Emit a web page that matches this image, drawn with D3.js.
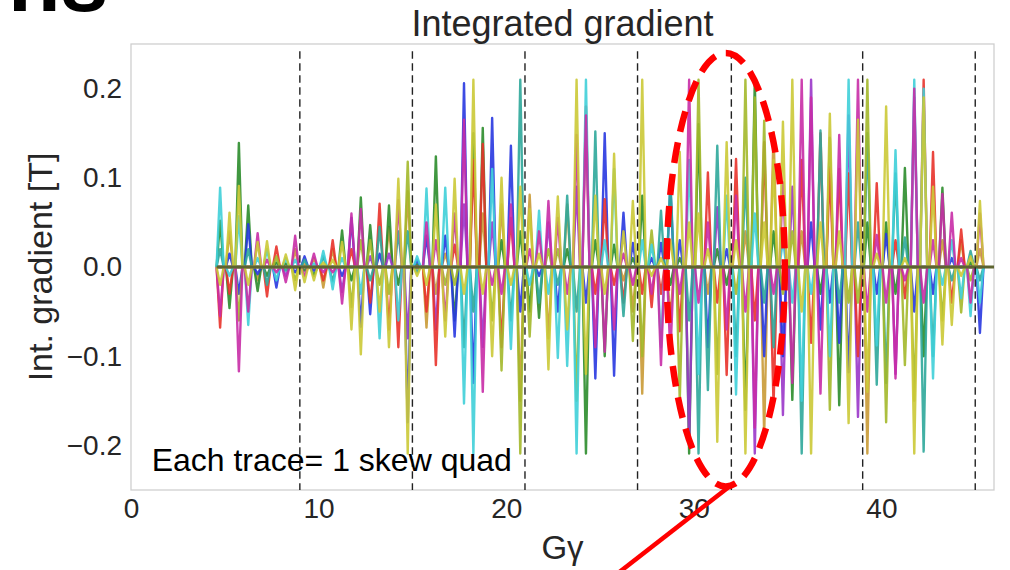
<!DOCTYPE html>
<html>
<head>
<meta charset="utf-8">
<script src="https://cdn.jsdelivr.net/npm/d3@7"></script>
<style>
  body { margin: 0; background: #fff; }
  svg { display: block; }
  text { font-family: "Liberation Sans", Arial, sans-serif; }
</style>
</head>
<body>
<div id="chart"></div>
<script>
// ---- DATA ----
// spin tune positions where each skew quad trace has a response spike
const gamma = [
  4.75, 5.25, 5.75, 6.25, 6.75, 7.25, 7.75, 8.25, 8.75, 9.25,
  9.75, 10.25, 10.75, 11.25, 11.75, 12.25, 12.75, 13.25, 13.75, 14.25,
  14.75, 15.25, 15.75, 16.25, 16.75, 17.25, 17.75, 18.25, 18.75, 19.25,
  19.75, 20.25, 20.75, 21.25, 21.75, 22.25, 22.75, 23.25, 23.75, 24.25,
  24.75, 25.25, 25.75, 26.25, 26.75, 27.25, 27.75, 28.25, 28.75, 29.25,
  29.75, 30.25, 30.75, 31.25, 31.75, 32.25, 32.75, 33.25, 33.75, 34.25,
  34.75, 35.25, 35.75, 36.25, 36.75, 37.25, 37.75, 38.25, 38.75, 39.25,
  39.75, 40.25, 40.75, 41.25, 41.75, 42.25, 42.75, 43.25, 43.75, 44.25,
  44.75, 45.25
];

// integrated gradient per skew quad [T]
const quadCyan = [
  .089, -.01, .057, -.065, .01, .02, -.015, .01, .008, 0,
  .004, .018, -.025, .01, 0, -.03, 0, -.08, 0, -.06,
  0, .012, .088, 0, .089, 0, -.153, -.209, 0, .11,
  0, -.092, 0, -.02, .063, -.03, -.102, -.111, -.209, .21,
  0, .03, .11, 0, 0, .03, .025, -.09, 0, 0,
  .12, -.12, 0, 0, .08, -.143, 0, .06, 0, 0,
  .03, -.04, -.15, -.03, 0, -.1, 0, .21, 0, 0,
  -.088, 0, .131, 0, .21, .2, -.125, -.02, .03, -.035,
  -.055, -.04
];
const quadTeal = [
  .02, 0, 0, .02, 0, -.02, 0, -.004, 0, .008,
  0, .012, -.016, 0, 0, 0, -.015, .045, 0, .04,
  .04, -.006, 0, 0, 0, 0, -.09, -.05, 0, 0,
  0, -.06, .21, 0, -.04, 0, -.02, .08, -.05, 0,
  .152, 0, 0, -.055, 0, 0, 0, .063, .099, 0,
  -.06, -.209, -.138, .136, 0, -.1, .1, 0, -.04, -.09,
  0, 0, -.209, 0, .153, 0, -.04, 0, .05, .15,
  -.132, -.13, .105, .033, 0, -.207, -.1, 0, -.015, 0,
  .018, -.015
];
const quadGreen = [
  .052, -.046, .139, .069, -.027, -.01, .005, .004, 0, -.004,
  -.01, 0, 0, .041, -.015, .078, .047, 0, .069, -.02,
  0, .003, 0, .124, 0, -.06, 0, .15, .156, 0,
  .03, 0, .04, -.05, -.057, 0, 0, .02, 0, -.209,
  .03, -.1, .025, 0, .01, .08, 0, 0, -.02, .01,
  -.209, .16, 0, .02, -.02, 0, -.16, .21, 0, .04,
  0, -.149, 0, 0, -.03, .145, -.155, 0, 0, .05,
  0, .05, -.03, .111, 0, -.1, 0, .089, 0, 0,
  .005, 0
];
const quadBlue = [
  0, .015, -.03, .048, -.008, 0, -.023, 0, -.006, .012,
  -.004, 0, 0, -.01, .055, -.067, -.053, .015, 0, 0,
  -.174, .008, .035, 0, .035, -.078, .206, -.13, 0, .167,
  0, .136, -.05, 0, -.01, 0, -.05, 0, 0, -.04,
  -.125, .15, -.122, .061, .027, 0, .01, .027, .09, .03,
  0, 0, -.09, 0, .02, 0, 0, 0, -.1, 0,
  -.1, 0, 0, .05, -.07, -.04, -.085, -.118, 0, 0,
  -.03, .037, 0, 0, -.05, 0, -.03, 0, .01, 0,
  0, -.074
];
const quadRed = [
  -.068, -.03, 0, 0, 0, -.033, .023, 0, 0, 0,
  0, -.015, .03, 0, .02, 0, -.04, .071, -.07, -.09,
  0, 0, -.05, -.11, 0, .025, 0, .12, .138, 0,
  -.09, .055, 0, 0, 0, 0, 0, 0, 0, .18,
  -.03, .076, -.02, -.04, 0, -.03, -.045, -.03, 0, -.072,
  0, 0, .106, -.04, -.121, .121, 0, -.06, .14, -.155,
  0, 0, .12, -.085, .15, .11, .11, .105, -.1, 0,
  .094, 0, .03, -.035, 0, .21, .129, 0, -.04, .042,
  0, 0
];
const quadMagenta = [
  -.055, 0, -.117, -.05, .038, .008, -.006, -.017, .035, -.01,
  .015, -.006, -.006, -.041, .06, .065, 0, 0, 0, .075,
  0, 0, .05, .03, -.06, .06, .165, 0, -.14, -.02,
  -.03, .07, 0, .02, .04, .074, .055, -.03, .148, .17,
  -.09, -.095, -.07, .015, -.02, 0, -.03, -.11, -.098, -.03,
  .21, -.04, .05, 0, -.07, .08, -.05, -.18, 0, -.03,
  .095, -.13, .21, .19, -.142, 0, .148, 0, .21, -.05,
  .036, -.04, -.125, -.015, .2, -.04, .03, .082, .061, .01,
  -.04, .06
];
const quadPurple = [
  0, 0, 0, 0, 0, 0, 0, -.01, 0, 0,
  0, 0, 0, -.028, 0, 0, .012, 0, .015, 0,
  -.08, 0, 0, -.07, 0, 0, .07, 0, -.09, .05,
  0, 0, 0, 0, 0, .05, 0, 0, .09, 0,
  0, 0, 0, 0, 0, 0, 0, 0, 0, 0,
  -.2, 0, 0, .067, 0, 0, 0, -.209, 0, 0,
  -.166, .09, 0, .21, 0, 0, 0, .17, -.168, 0,
  0, 0, -.12, 0, .19, 0, 0, 0, 0, 0,
  0, 0
];
const quadYellow = [
  -.02, .061, .091, -.02, .028, .029, 0, .014, -.026, -.017,
  -.015, .005, .008, .028, -.07, -.098, 0, -.05, -.09, .099,
  -.209, -.01, -.02, .07, -.078, .099, -.03, .21, -.03, -.1,
  .1, -.02, .09, .065, .015, -.115, .079, -.07, .21, -.12,
  .08, -.03, .127, .04, .074, .21, -.01, .01, .03, .129,
  .05, .06, .02, -.196, .14, .03, -.209, 0, .05, .12,
  .163, .21, -.05, -.209, .05, .172, .04, -.175, .165, -.14,
  .015, .18, 0, .01, -.209, .19, .09, -.087, -.065, -.01,
  .012, .074
];
const quadOlive = [
  0, 0, -.06, 0, 0, 0, .012, 0, -.015, 0,
  0, 0, 0, 0, -.045, .03, .03, -.02, -.03, 0,
  .118, 0, 0, 0, -.02, -.02, 0, 0, 0, -.06,
  -.116, 0, -.209, -.078, 0, .02, .02, 0, -.15, 0,
  0, 0, 0, 0, -.083, -.1, .041, 0, 0, -.15,
  0, .21, 0, -.12, 0, -.03, .21, .19, .164, 0,
  -.03, .04, 0, 0, 0, -.16, 0, -.04, -.04, .21,
  0, -.174, 0, -.11, -.15, 0, 0, -.06, 0, -.051,
  -.015, 0
];
const quadAmber = [
  0, .04, 0, 0, -.015, 0, 0, 0, .02, .003,
  .01, -.023, .02, 0, 0, 0, 0, 0, .045, 0,
  .085, -.002, -.068, -.03, .015, 0, 0, 0, .06, 0,
  .07, 0, -.15, .081, 0, -.08, 0, .07, 0, 0,
  0, 0, 0, -.015, -.05, -.142, 0, 0, -.06, 0,
  0, 0, -.03, 0, 0, 0, .04, 0, -.19, .151,
  0, 0, .04, 0, 0, 0, 0, 0, 0, -.209,
  0, 0, 0, 0, 0, 0, 0, .03, 0, .03,
  0, .02
];

// integer resonance markers
const resonances = [9, 15, 21, 27, 32, 39, 45];

const xTicks = [0, 10, 20, 30, 40];
const yTicks = [-0.2, -0.1, 0.0, 0.1, 0.2];

// ---- SVG ----
const W = 1010, H = 570;
const plot = {left: 131, right: 994, top: 44, bottom: 490};

const svg = d3.select("#chart")
    .append("svg")
    .attr("width", W)
    .attr("height", H);

const x = d3.scaleLinear().domain([0, 46]).range([plot.left, plot.right]);
const y = d3.scaleLinear().domain([-0.25, 0.25]).range([plot.bottom, plot.top]);

svg.append("clipPath").attr("id", "clip")
    .append("rect")
    .attr("x", plot.left).attr("y", plot.top)
    .attr("width", plot.right - plot.left)
    .attr("height", plot.bottom - plot.top);

// frame
svg.append("rect")
    .attr("x", plot.left).attr("y", plot.top)
    .attr("width", plot.right - plot.left)
    .attr("height", plot.bottom - plot.top)
    .attr("fill", "none")
    .attr("stroke", "#cfcfcf")
    .attr("stroke-width", 1.3);

const g = svg.append("g").attr("clip-path", "url(#clip)");

// ---- TRACES ----
const traces = [
    {values: quadAmber,   color: "#c99a35"},
    {values: quadGreen,   color: "#2b8c2b"},
    {values: quadPurple,  color: "#9a36c9"},
    {values: quadBlue,    color: "#2837e0"},
    {values: quadRed,     color: "#e8322a"},
    {values: quadTeal,    color: "#2ea79a"},
    {values: quadOlive,   color: "#a3b82a"},
    {values: quadCyan,    color: "#3fcfd8"},
    {values: quadMagenta, color: "#c82ca6"},
    {values: quadYellow,  color: "#cbc936"},
];

const line = d3.line()
    .x(d => x(d[0]))
    .y(d => y(d[1]));

// each spike is narrow: the trace sits at zero between resonance positions
const halfWidth = 0.19;
function spikes(values) {
    const pts = [];
    values.forEach((v, i) => {
        pts.push([gamma[i] - halfWidth, 0]);
        pts.push([gamma[i], v]);
        pts.push([gamma[i] + halfWidth, 0]);
    });
    return pts;
}

traces.forEach(t => {
    g.append("path")
        .datum(spikes(t.values))
        .attr("fill", "none")
        .attr("stroke", t.color)
        .attr("stroke-width", 2.4)
        .attr("stroke-opacity", 0.9)
        .attr("stroke-linejoin", "round")
        .attr("d", line);
});

// flat part shared by all traces
g.append("path")
    .datum([[gamma[0] - halfWidth, 0], [46, 0]])
    .attr("fill", "none")
    .attr("stroke", "#5d6431")
    .attr("stroke-width", 3)
    .attr("d", line);

// resonance lines
g.selectAll(".res")
    .data(resonances)
    .enter()
    .append("line")
    .attr("x1", d => x(d)).attr("x2", d => x(d))
    .attr("y1", y(0.242)).attr("y2", plot.bottom)
    .attr("stroke", "#222")
    .attr("stroke-width", 1.4)
    .attr("stroke-dasharray", "7.5,4.5");

// ---- AXES ----
const tickColor = "#262626";

const xAxis = svg.append("g")
    .attr("transform", `translate(0,${plot.bottom})`)
    .call(d3.axisBottom(x).tickValues(xTicks).tickSize(0).tickPadding(8));
xAxis.select(".domain").remove();
xAxis.selectAll("text")
    .style("font-size", "28px")
    .attr("fill", tickColor);

const yAxis = svg.append("g")
    .attr("transform", `translate(${plot.left},0)`)
    .call(d3.axisLeft(y).tickValues(yTicks).tickFormat(d3.format(".1f")).tickSize(0).tickPadding(9));
yAxis.select(".domain").remove();
yAxis.selectAll("text")
    .style("font-size", "28px")
    .attr("fill", tickColor);

// ---- TEXT ----
svg.append("text")
    .attr("x", (plot.left + plot.right) / 2)
    .attr("y", 36)
    .attr("text-anchor", "middle")
    .attr("fill", tickColor)
    .style("font-size", "36px")
    .text("Integrated gradient");

svg.append("text")
    .attr("transform", `translate(52,${(plot.top + plot.bottom) / 2}) rotate(-90)`)
    .attr("text-anchor", "middle")
    .attr("fill", tickColor)
    .style("font-size", "34px")
    .text("Int. gradient [T]");

svg.append("text")
    .attr("x", (plot.left + plot.right) / 2)
    .attr("y", 559)
    .attr("text-anchor", "middle")
    .attr("fill", tickColor)
    .style("font-size", "33px")
    .text("Gγ");

svg.append("text")
    .attr("x", x(1.1))
    .attr("y", y(-0.229))
    .attr("fill", "#000")
    .style("font-size", "32px")
    .text("Each trace= 1 skew quad");

// slide heading cut off at the top
svg.append("text")
    .attr("x", 8)
    .attr("y", 11)
    .attr("fill", "#000")
    .style("font-size", "86px")
    .style("font-weight", "bold")
    .text("ns");

// ---- HIGHLIGHT ----
svg.append("ellipse")
    .attr("cx", x(31.7))
    .attr("cy", y(-0.003))
    .attr("rx", x(3.15) - x(0))
    .attr("ry", y(0) - y(0.243))
    .attr("fill", "none")
    .attr("stroke", "#ff0000")
    .attr("stroke-width", 6.5)
    .attr("stroke-dasharray", "21,11");

svg.append("line")
    .attr("x1", x(31.9)).attr("y1", y(-0.246))
    .attr("x2", x(25.85)).attr("y2", y(-0.345))
    .attr("stroke", "#ff0000")
    .attr("stroke-width", 4.5);
</script>
</body>
</html>
